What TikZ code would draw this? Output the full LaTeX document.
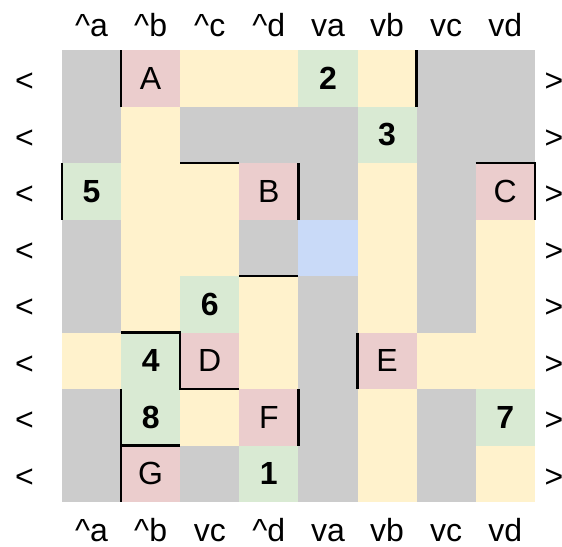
\documentclass[tikz,border=0pt]{standalone}
\usepackage{fontspec}
\setmainfont{Liberation Sans}
\usepackage{xcolor}
\usepackage{tikz}

\definecolor{cellgray}{HTML}{CCCCCC}
\definecolor{cellyellow}{HTML}{FFF2CC}
\definecolor{cellgreen}{HTML}{D9EAD3}
\definecolor{cellred}{HTML}{EBCDCD}
\definecolor{cellblue}{HTML}{C9DAF8}

\begin{document}
\begin{tikzpicture}[
    x=59.1pt, y=-56.5pt, % one unit = one cell, rows counted downwards
    every node/.style={font=\fontsize{32}{34}\selectfont},
    cell/.style={
        minimum width=59.1pt,
        minimum height=56.5pt,
        inner sep=0pt,
        outer sep=0pt
    },
    yelcell/.style={cell, fill=cellyellow},
    grncell/.style={cell, fill=cellgreen, font=\fontsize{32}{34}\selectfont\bfseries},
    redcell/.style={cell, fill=cellred},
    bluecell/.style={cell, fill=cellblue},
    wall/.style={line width=2.4pt}
]
\useasboundingbox (-0.549,-0.385) rectangle (8.960,9.296);

% --- board: gray background ---
\fill[cellgray] (0.5,0.5) rectangle (8.5,8.5);

% row 1
\node[redcell] (A) at (2,1) {A};
\node[yelcell] (y31) at (3,1) {};
\node[yelcell] (y41) at (4,1) {};
\node[grncell] (n2) at (5,1) {2};
\node[yelcell] (y61) at (6,1) {};
% row 2
\node[yelcell] (y22) at (2,2) {};
\node[grncell] (n3) at (6,2) {3};
% row 3
\node[grncell] (n5) at (1,3) {5};
\node[yelcell] (y23) at (2,3) {};
\node[yelcell] (y33) at (3,3) {};
\node[redcell] (B) at (4,3) {B};
\node[yelcell] (y63) at (6,3) {};
\node[redcell] (C) at (8,3) {C};
% row 4
\node[yelcell] (y24) at (2,4) {};
\node[yelcell] (y34) at (3,4) {};
\node[bluecell] (hole) at (5,4) {};
\node[yelcell] (y64) at (6,4) {};
\node[yelcell] (y84) at (8,4) {};
% row 5
\node[yelcell] (y25) at (2,5) {};
\node[grncell] (n6) at (3,5) {6};
\node[yelcell] (y45) at (4,5) {};
\node[yelcell] (y65) at (6,5) {};
\node[yelcell] (y85) at (8,5) {};
% row 6
\node[yelcell] (y16) at (1,6) {};
\node[grncell] (n4) at (2,6) {4};
\node[redcell] (D) at (3,6) {D};
\node[yelcell] (y46) at (4,6) {};
\node[redcell] (E) at (6,6) {E};
\node[yelcell] (y76) at (7,6) {};
\node[yelcell] (y86) at (8,6) {};
% row 7
\node[grncell] (n8) at (2,7) {8};
\node[yelcell] (y37) at (3,7) {};
\node[redcell] (F) at (4,7) {F};
\node[yelcell] (y67) at (6,7) {};
\node[grncell] (n7) at (8,7) {7};
% row 8
\node[redcell] (G) at (2,8) {G};
\node[grncell] (n1) at (4,8) {1};
\node[yelcell] (y68) at (6,8) {};
\node[yelcell] (y88) at (8,8) {};

% column labels, top and bottom
\foreach \c/\t in {1/\textasciicircum a, 2/\textasciicircum b, 3/\textasciicircum c, 4/\textasciicircum d,
                   5/va, 6/vb, 7/vc, 8/vd}
    \node[anchor=base] (top\c) at (\c,0.261) {\t};
\foreach \c/\t in {1/\textasciicircum a, 2/\textasciicircum b, 3/vc, 4/\textasciicircum d,
                   5/va, 6/vb, 7/vc, 8/vd}
    \node[anchor=base] (bot\c) at (\c,9.19) {\t};

% row arrows, left and right
\foreach \r in {1,...,8} {
    \node (left\r) at (-0.135,\r+0.07) {<};
    \node (right\r) at (8.825,\r+0.07) {>};
}

% walls
\draw[wall] (A.north west) -- (A.south west);
\draw[wall] (y61.north east) -- (y61.south east);
\draw[wall] (n5.north west) -- (n5.south west);
\draw[wall] (y33.north west) -- (y33.north east);
\draw[wall] (B.north east) -- (B.south east);
\draw[wall] (C.north west) -- (C.north east) -- (C.south east);
\draw[wall] (y45.north west) -- (y45.north east);
\draw[wall] (n4.north west) -- (n4.north east) -- (D.south west) -- (D.south east);
\draw[wall] (E.north west) -- (E.south west);
\draw[wall] (n8.north west) -- (G.south west);
\draw[wall] (n8.south west) -- (n8.south east);
\draw[wall] (F.north east) -- (F.south east);

\end{tikzpicture}
\end{document}
